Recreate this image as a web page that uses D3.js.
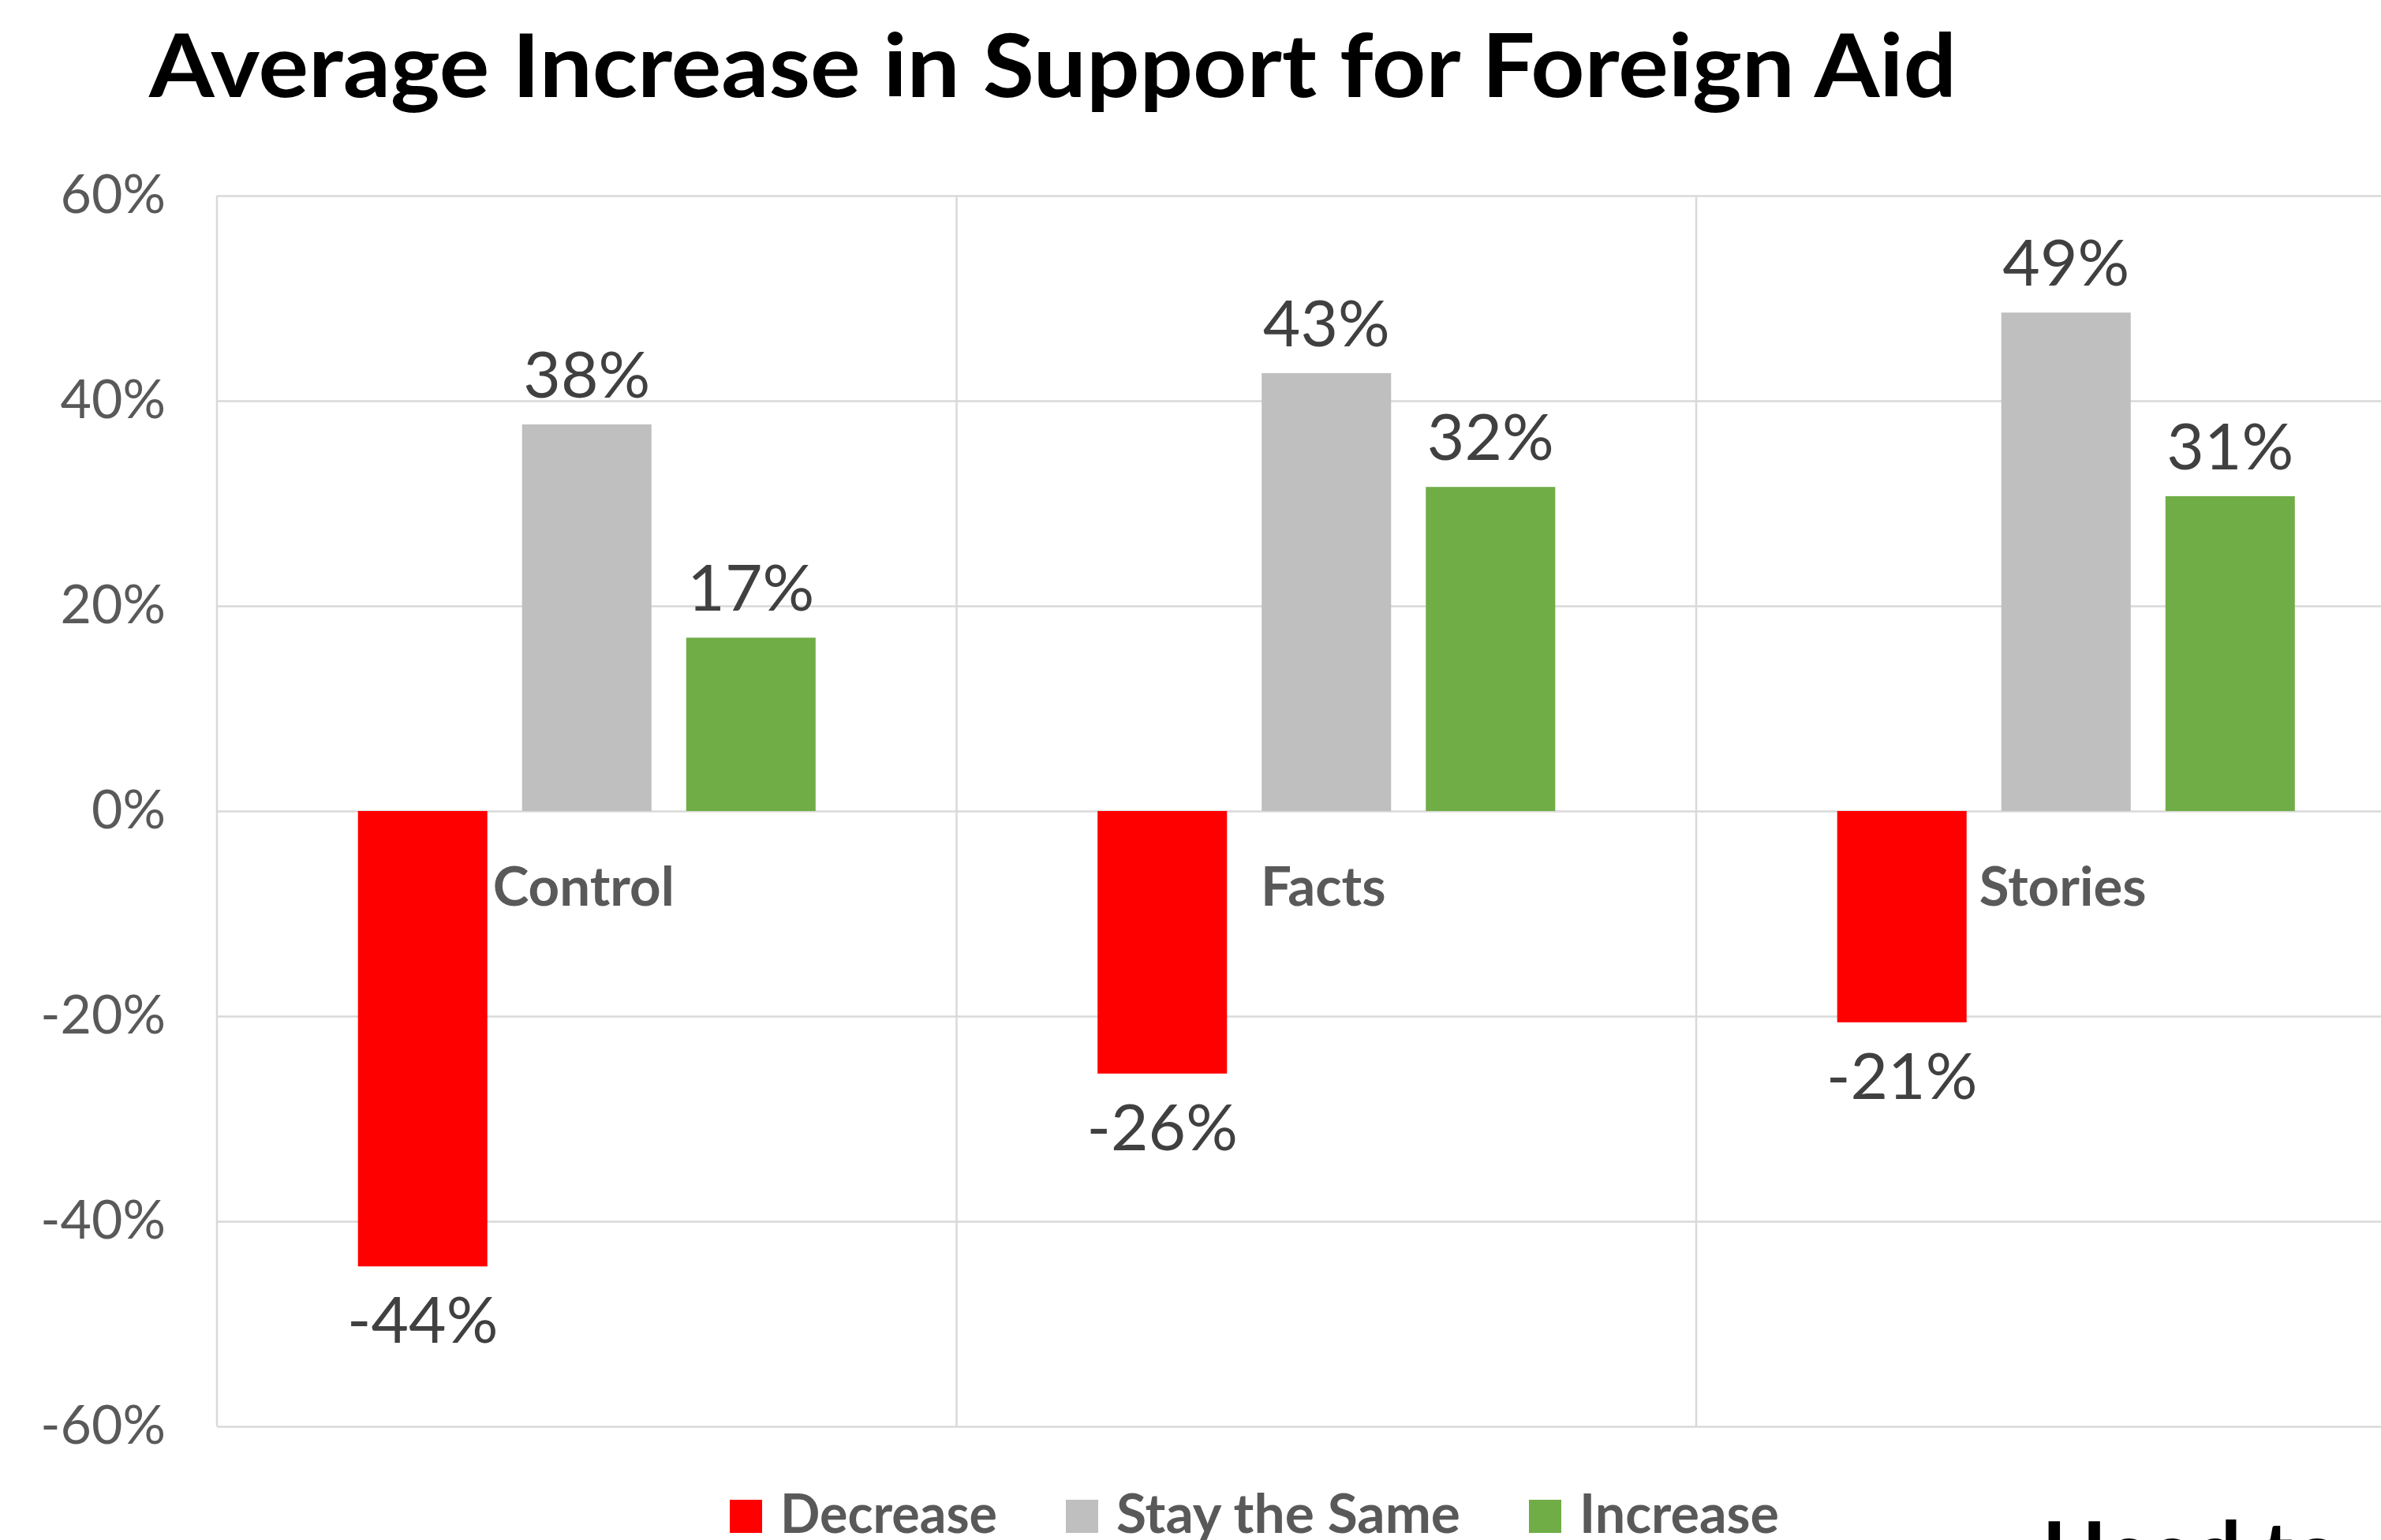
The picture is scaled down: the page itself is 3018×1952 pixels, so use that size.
<!DOCTYPE html>
<html>
<head>
<meta charset="utf-8">
<script src="https://cdn.jsdelivr.net/npm/d3@7"></script>
<style>
  body { margin: 0; background: #fff; }
  text { font-family: Lato, "Open Sans", sans-serif; }
</style>
</head>
<body>
<svg id="chart" width="3018" height="1952"></svg>
<script>
// chart data
const categories = ["Control", "Facts", "Stories"];
const seriesNames = ["Decrease", "Stay the Same", "Increase"];
const decreaseValues = [-44.4, -25.6, -20.6];
const stayValues = [37.7, 42.7, 48.6];
const increaseValues = [16.9, 31.6, 30.7];
const yTicks = [-60, -40, -20, 0, 20, 40, 60];
const seriesColors = ["#ff0000", "#bfbfbf", "#70ad47"];
const legendWidths = [275, 436, 253]; // text widths

const svg = d3.select("#chart");
const W = 3018, H = 1952;
svg.append("rect").attr("width", W).attr("height", H).attr("fill", "#fff");

// plot area (right edge runs past the picture)
const plotLeft = 275, plotTop = 248, plotBottom = 1808;
const bandW = 937.5;
const plotRight = plotLeft + bandW * categories.length;

const y = d3.scaleLinear().domain([-60, 60]).range([plotBottom, plotTop]);
const x0 = d3.scaleBand().domain(categories).range([plotLeft, plotRight]).padding(0);
const x1 = d3.scaleBand().domain(seriesNames).range([0, bandW])
    .paddingInner(0.2115).paddingOuter(0.859);

// title
svg.append("text")
    .attr("x", 189).attr("y", 123)
    .attr("font-size", 112).attr("font-weight", 700).attr("fill", "#000")
    .attr("textLength", 2291).attr("lengthAdjust", "spacingAndGlyphs")
    .text("Average Increase in Support for Foreign Aid");

// horizontal gridlines
const grid = svg.append("g").attr("transform", `translate(${plotLeft},0)`)
    .call(d3.axisLeft(y).tickValues(yTicks).tickSize(-(plotRight - plotLeft)).tickFormat(""));
grid.select(".domain").remove();
grid.selectAll("line").attr("stroke", "#d9d9d9").attr("stroke-width", 2.5);

// vertical gridlines at category boundaries
svg.append("g").selectAll("line")
    .data(categories)
    .join("line")
    .attr("x1", d => x0(d)).attr("x2", d => x0(d))
    .attr("y1", plotTop).attr("y2", plotBottom)
    .attr("stroke", "#d9d9d9").attr("stroke-width", 2.5);

// y tick labels
const yAxis = svg.append("g").attr("transform", `translate(${plotLeft},0)`)
    .call(d3.axisLeft(y).tickValues(yTicks).tickSize(0).tickPadding(65).tickFormat(d => d + "%"));
yAxis.select(".domain").remove();
yAxis.selectAll("text")
    .attr("font-size", 68).attr("fill", "#595959")
    .style("font-family", "Lato, 'Open Sans', sans-serif");

// bars
const seriesData = [decreaseValues, stayValues, increaseValues];
const groups = svg.append("g").selectAll("g")
    .data(categories)
    .join("g")
    .attr("transform", d => `translate(${x0(d)},0)`);

groups.each(function(cat, ci) {
    const g = d3.select(this);
    seriesNames.forEach((s, si) => {
        const v = seriesData[si][ci];
        g.append("rect")
            .attr("x", x1(s))
            .attr("y", y(Math.max(0, v)))
            .attr("width", x1.bandwidth())
            .attr("height", Math.abs(y(v) - y(0)))
            .attr("fill", seriesColors[si]);

        // data label above positive bars, below negative ones
        g.append("text")
            .attr("x", x1(s) + x1.bandwidth() / 2)
            .attr("y", v >= 0 ? y(v) - 34 : y(v) + 97)
            .attr("text-anchor", "middle")
            .attr("font-size", 82).attr("fill", "#404040")
            .text(Math.round(v) + "%");
    });
});

// category labels sit just under the zero line
svg.append("g").selectAll("text")
    .data(categories)
    .join("text")
    .attr("x", d => x0(d) + bandW / 2 - 4)
    .attr("y", y(0) + 120)
    .attr("text-anchor", "middle")
    .attr("font-size", 69).attr("font-weight", 700).attr("fill", "#595959")
    .text(d => d);

// legend
const legend = svg.append("g");
let lx = 925;
seriesNames.forEach((s, i) => {
    legend.append("rect")
        .attr("x", lx).attr("y", 1901)
        .attr("width", 41).attr("height", 42)
        .attr("fill", seriesColors[i]);
    legend.append("text")
        .attr("x", lx + 64).attr("y", 1943)
        .attr("font-size", 68).attr("font-weight", 700).attr("fill", "#595959")
        .attr("textLength", legendWidths[i]).attr("lengthAdjust", "spacingAndGlyphs")
        .text(s);
    lx += 64 + legendWidths[i] + 87;
});

// text from the slide below, cut off by the edge
svg.append("text")
    .attr("x", 2588).attr("y", 2006)
    .attr("font-size", 107).attr("font-weight", 700).attr("fill", "#000")
    .text("Head to");
</script>
</body>
</html>
